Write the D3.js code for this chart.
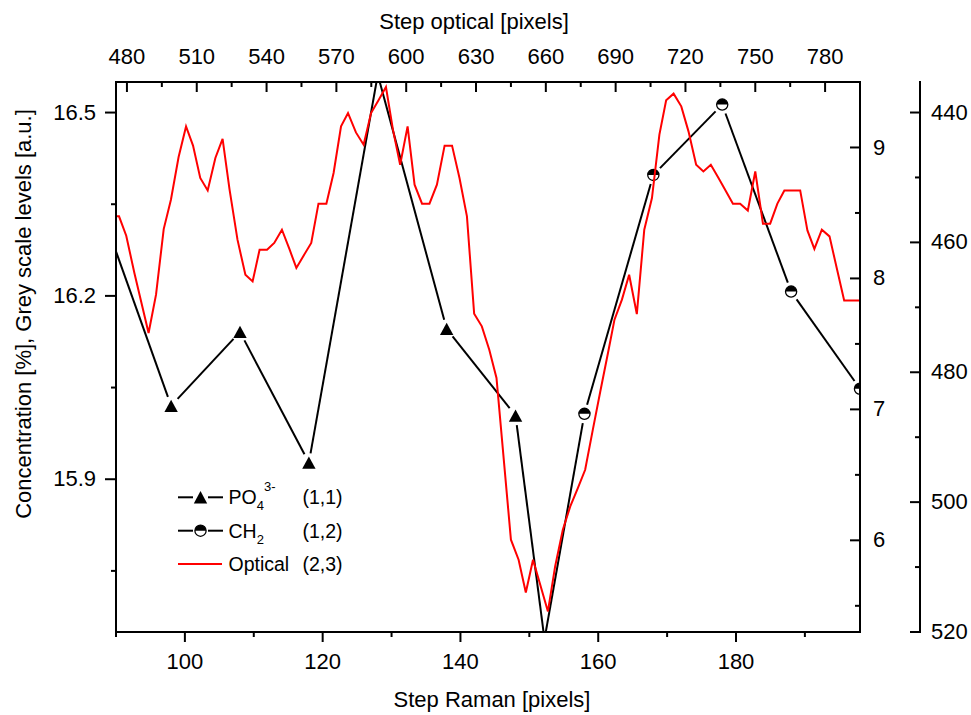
<!DOCTYPE html>
<html>
<head>
<meta charset="utf-8">
<script src="https://cdn.jsdelivr.net/npm/d3@7"></script>
<style>
  html, body { margin: 0; padding: 0; background: #fff; }
  svg { display: block; }
  text { font-family: "Liberation Sans", Arial, Helvetica, sans-serif; fill: #000; }
</style>
</head>
<body>
<svg id="chart" width="971" height="715"></svg>
<script>
// ---- Raman profile, layer 1 (left / bottom axes) ----
// PO4(3-) band; the last point is the trough shared with the CH2 band
const po4Step = [88, 98, 108, 118, 128, 138, 148, 152.2];
const po4Conc = [16.336, 16.020, 16.141, 15.927, 16.562, 16.146, 16.004, 15.638];
// CH2 band, continuing from the trough
const ch2Step = [152.2, 158, 168, 178, 188, 198];
const ch2Conc = [15.638, 16.007, 16.398, 16.513, 16.207, 16.048];

// ---- Optical grey-scale profile, layer 2 (top / right axes) ----
const opticalStep = [473.4, 476.6, 479.7, 483.2, 489.3, 492.5, 495.8, 498.9, 502.2, 505.4,
  508.4, 511.5, 514.7, 518.0, 521.1, 524.1, 527.5, 530.9, 534.0, 537.0,
  540.2, 543.3, 546.6, 549.8, 552.8, 555.9, 559.2, 562.3, 565.7, 568.8,
  572.0, 575.0, 578.4, 581.7, 584.9, 588.1, 591.3, 594.3, 597.4, 600.6,
  603.6, 606.8, 610.0, 613.2, 616.5, 619.7, 622.9, 626.1, 629.2, 632.5,
  635.7, 638.8, 645.0, 648.3, 651.4, 654.5, 657.6, 660.9, 664.0, 667.3,
  670.5, 673.8, 676.9, 680.2, 683.4, 686.7, 689.5, 692.7, 695.8, 699.1,
  702.3, 705.6, 708.8, 711.7, 714.9, 718.2, 721.3, 724.6, 727.7, 730.9,
  734.2, 737.4, 740.4, 743.5, 746.8, 750.0, 753.3, 756.4, 759.5, 762.5,
  766.0, 769.3, 772.4, 775.4, 778.6, 781.9, 785.0, 788.2, 791.5, 794.8, 797.9];
const opticalGrey = [8.474, 8.474, 8.326, 8.041, 7.583, 7.876, 8.377, 8.601, 8.927, 9.161,
  9.014, 8.767, 8.672, 8.920, 9.065, 8.678, 8.296, 8.028, 7.977, 8.219,
  8.219, 8.271, 8.372, 8.225, 8.080, 8.174, 8.271, 8.571, 8.571, 8.805,
  9.161, 9.263, 9.115, 9.021, 9.263, 9.360, 9.462, 9.136, 8.868, 9.161,
  8.716, 8.571, 8.571, 8.716, 9.014, 9.014, 8.767, 8.474, 7.731, 7.634,
  7.456, 7.240, 6.005, 5.852, 5.602, 5.852, 5.661, 5.457, 5.801, 6.081,
  6.259, 6.400, 6.539, 6.845, 7.137, 7.431, 7.685, 7.838, 8.028, 7.728,
  8.372, 8.614, 9.098, 9.360, 9.411, 9.314, 9.123, 8.868, 8.817, 8.868,
  8.767, 8.665, 8.571, 8.571, 8.519, 8.817, 8.418, 8.418, 8.571, 8.672,
  8.672, 8.672, 8.367, 8.225, 8.372, 8.321, 8.080, 7.832, 7.832, 7.832, 7.832];

// ---- Tick values ----
const ramanTicks = [100, 120, 140, 160, 180];
const ramanMinor = [90, 110, 130, 150, 170, 190];
const opticalTicks = [480, 510, 540, 570, 600, 630, 660, 690, 720, 750, 780];
const opticalMinor = [495, 525, 555, 585, 615, 645, 675, 705, 735, 765];
const concTicks = [15.9, 16.2, 16.5];
const concMinor = [15.75, 16.05, 16.35];
const greyTicks = [6, 7, 8, 9];
const greyMinor = [5.5, 6.5, 7.5, 8.5];
const outerTicks = [440, 460, 480, 500, 520];
const outerMinor = [450, 470, 490, 510];

// ---- Legend entries ----
const legendNames = ["PO", "CH", "Optical"];
const legendSubs = ["4", "2", ""];
const legendSups = ["3-", "", ""];
const legendPlotIds = ["(1,1)", "(1,2)", "(2,3)"];
const legendSymbols = ["triangle", "halfcircle", "none"];
const legendColors = ["#000", "#000", "#ff0000"];

// ---- Layout ----
const W = 971, H = 715;
const frame = { left: 116, right: 860, top: 82, bottom: 632 };
const outerAxisX = 920;
const FONT_TICK = 22, FONT_TITLE = 22, FONT_LEGEND = 19.5;
const MARKER_GAP = 9.5;

const svg = d3.select("#chart");
svg.append("rect").attr("width", W).attr("height", H).attr("fill", "#fff");

const xRaman = d3.scaleLinear().domain([90, 198]).range([frame.left, frame.right]);
const yConc = d3.scaleLinear().domain([15.65, 16.55]).range([frame.bottom, frame.top]);
const xOpt = d3.scaleLinear().domain([475.3, 795]).range([frame.left, frame.right]);
const yGrey = d3.scaleLinear().domain([5.3, 9.5]).range([frame.bottom, frame.top]);
const yOuter = d3.scaleLinear().domain([435.3, 520]).range([frame.top, frame.bottom]);

svg.append("defs").append("clipPath").attr("id", "plot-clip")
  .append("rect")
  .attr("x", frame.left).attr("y", frame.top)
  .attr("width", frame.right - frame.left).attr("height", frame.bottom - frame.top);

const plot = svg.append("g").attr("clip-path", "url(#plot-clip)");

// symbol shapes
const trianglePath = "M0,-6.2L6.7,6.1L-6.7,6.1Z";
const R = 5.6;
function drawSymbol(g, kind, x, y) {
  if (kind === "triangle") {
    g.append("path").attr("d", trianglePath)
      .attr("transform", `translate(${x},${y})`).attr("fill", "#000");
  } else if (kind === "halfcircle") {
    const s = g.append("g").attr("transform", `translate(${x},${y})`);
    s.append("circle").attr("r", R).attr("fill", "#fff").attr("stroke", "#000").attr("stroke-width", 1.3);
    s.append("path").attr("d", `M${-R},0A${R},${R} 0 0 1 ${R},0Z`).attr("fill", "#000");
  }
}

// connecting line split into segments that stop short of each visible symbol
function insideFrame(p) {
  return p[0] >= frame.left - 0.5 && p[0] <= frame.right + 0.5 &&
         p[1] >= frame.top - 0.5 && p[1] <= frame.bottom + 0.5;
}
function gappedSegments(xs, ys, xS, yS, gap) {
  const pts = xs.map((x, i) => [xS(x), yS(ys[i])]);
  const segs = [];
  for (let i = 0; i < pts.length - 1; i++) {
    const a = pts[i], b = pts[i + 1];
    const dx = b[0] - a[0], dy = b[1] - a[1], L = Math.hypot(dx, dy);
    const ua = insideFrame(a) ? gap / L : 0;
    const ub = insideFrame(b) ? gap / L : 0;
    segs.push([[a[0] + dx * ua, a[1] + dy * ua], [b[0] - dx * ub, b[1] - dy * ub]]);
  }
  return segs;
}

const segLine = d3.line();
function drawRamanSeries(xs, ys, symbol) {
  const g = plot.append("g");
  gappedSegments(xs, ys, xRaman, yConc, MARKER_GAP).forEach(s => {
    g.append("path").attr("d", segLine(s))
      .attr("fill", "none").attr("stroke", "#000").attr("stroke-width", 2);
  });
  xs.forEach((x, i) => drawSymbol(g, symbol, xRaman(x), yConc(ys[i])));
}
drawRamanSeries(po4Step, po4Conc, "triangle");
drawRamanSeries(ch2Step, ch2Conc, "halfcircle");

// optical profile
const opticalLine = d3.line()
  .x(d => xOpt(d[0]))
  .y(d => yGrey(d[1]));
plot.append("path")
  .datum(opticalStep.map((s, i) => [s, opticalGrey[i]]))
  .attr("d", opticalLine)
  .attr("fill", "none").attr("stroke", "#ff0000").attr("stroke-width", 2)
  .attr("stroke-linejoin", "miter");

// ---- Axes ----
function styleAxis(g, withLabels) {
  g.selectAll(".domain").attr("stroke", "#000").attr("stroke-width", 2).attr("stroke-linecap", "square");
  g.selectAll(".tick line").attr("stroke", "#000").attr("stroke-width", 2);
  if (withLabels) {
    g.selectAll(".tick text").attr("font-size", FONT_TICK)
      .attr("font-family", "'Liberation Sans', Arial, sans-serif").attr("fill", "#000");
  } else {
    g.selectAll(".tick text").remove();
  }
  g.attr("font-family", null).attr("font-size", null);
}
function addMinor(g, axis) {
  const m = g.append("g").call(axis);
  m.select(".domain").remove();
  m.selectAll(".tick text").remove();
  m.selectAll(".tick line").attr("stroke", "#000").attr("stroke-width", 2);
}

// bottom: Step Raman
const gBottom = svg.append("g").attr("transform", `translate(0,${frame.bottom})`);
gBottom.call(d3.axisBottom(xRaman).tickValues(ramanTicks).tickSize(10).tickSizeOuter(0)
  .tickPadding(11).tickFormat(d3.format("d")).offset(0));
styleAxis(gBottom, true);
addMinor(gBottom, d3.axisBottom(xRaman).tickValues(ramanMinor).tickSize(5).tickFormat("").offset(0));

// top: Step optical (ticks point inward)
const gTop = svg.append("g").attr("transform", `translate(0,${frame.top})`);
gTop.call(d3.axisTop(xOpt).tickValues(opticalTicks).tickSizeInner(-10).tickSizeOuter(0)
  .tickPadding(18).tickFormat(d3.format("d")).offset(0));
styleAxis(gTop, true);
addMinor(gTop, d3.axisTop(xOpt).tickValues(opticalMinor).tickSizeInner(-5).tickSizeOuter(0).tickFormat("").offset(0));

// left: concentration
const gLeft = svg.append("g").attr("transform", `translate(${frame.left},0)`);
gLeft.call(d3.axisLeft(yConc).tickValues(concTicks).tickSize(11).tickSizeOuter(0)
  .tickPadding(9).tickFormat(d3.format(".1f")).offset(0));
styleAxis(gLeft, true);
addMinor(gLeft, d3.axisLeft(yConc).tickValues(concMinor).tickSize(5).tickFormat("").offset(0));

// inner right: grey scale levels (ticks point inward)
const gRight = svg.append("g").attr("transform", `translate(${frame.right},0)`);
gRight.call(d3.axisRight(yGrey).tickValues(greyTicks).tickSizeInner(-10).tickSizeOuter(0)
  .tickPadding(13).tickFormat(d3.format("d")).offset(0));
styleAxis(gRight, true);
addMinor(gRight, d3.axisRight(yGrey).tickValues(greyMinor).tickSizeInner(-5).tickSizeOuter(0).tickFormat("").offset(0));

// outer right axis
const gOuter = svg.append("g").attr("transform", `translate(${outerAxisX},0)`);
gOuter.call(d3.axisRight(yOuter).tickValues(outerTicks).tickSizeInner(-10).tickSizeOuter(0)
  .tickPadding(11).tickFormat(d3.format("d")).offset(0));
styleAxis(gOuter, true);
addMinor(gOuter, d3.axisRight(yOuter).tickValues(outerMinor).tickSizeInner(-5).tickSizeOuter(0).tickFormat("").offset(0));

// ---- Axis titles ----
svg.append("text").attr("x", 474).attr("y", 29).attr("text-anchor", "middle")
  .attr("font-size", FONT_TITLE).text("Step optical [pixels]");
svg.append("text").attr("x", 492).attr("y", 707).attr("text-anchor", "middle")
  .attr("font-size", FONT_TITLE).text("Step Raman [pixels]");
svg.append("text").attr("transform", "translate(31,314) rotate(-90)").attr("text-anchor", "middle")
  .attr("font-size", FONT_TITLE).text("Concentration [%], Grey scale levels [a.u.]");

// ---- Legend ----
const legend = svg.append("g");
const rowY = [497.3, 530.7, 564];
legendNames.forEach((name, i) => {
  const y = rowY[i];
  const row = legend.append("g");
  if (legendSymbols[i] === "none") {
    row.append("line").attr("x1", 178).attr("x2", 222).attr("y1", y).attr("y2", y)
      .attr("stroke", legendColors[i]).attr("stroke-width", 2);
  } else {
    row.append("line").attr("x1", 178).attr("x2", 193).attr("y1", y).attr("y2", y)
      .attr("stroke", legendColors[i]).attr("stroke-width", 2);
    row.append("line").attr("x1", 208).attr("x2", 223).attr("y1", y).attr("y2", y)
      .attr("stroke", legendColors[i]).attr("stroke-width", 2);
    drawSymbol(row, legendSymbols[i], 200.5, y);
  }
  const t = row.append("text").attr("x", 228.5).attr("y", y + 7).attr("font-size", FONT_LEGEND);
  t.append("tspan").text(name);
  if (legendSubs[i]) t.append("tspan").attr("font-size", 13).attr("dy", 6).text(legendSubs[i]);
  if (legendSups[i]) t.append("tspan").attr("font-size", 13).attr("dy", -19).text(legendSups[i]);
  t.append("tspan").attr("x", 302.5).attr("y", y + 7).text(legendPlotIds[i]);
});
</script>
</body>
</html>
